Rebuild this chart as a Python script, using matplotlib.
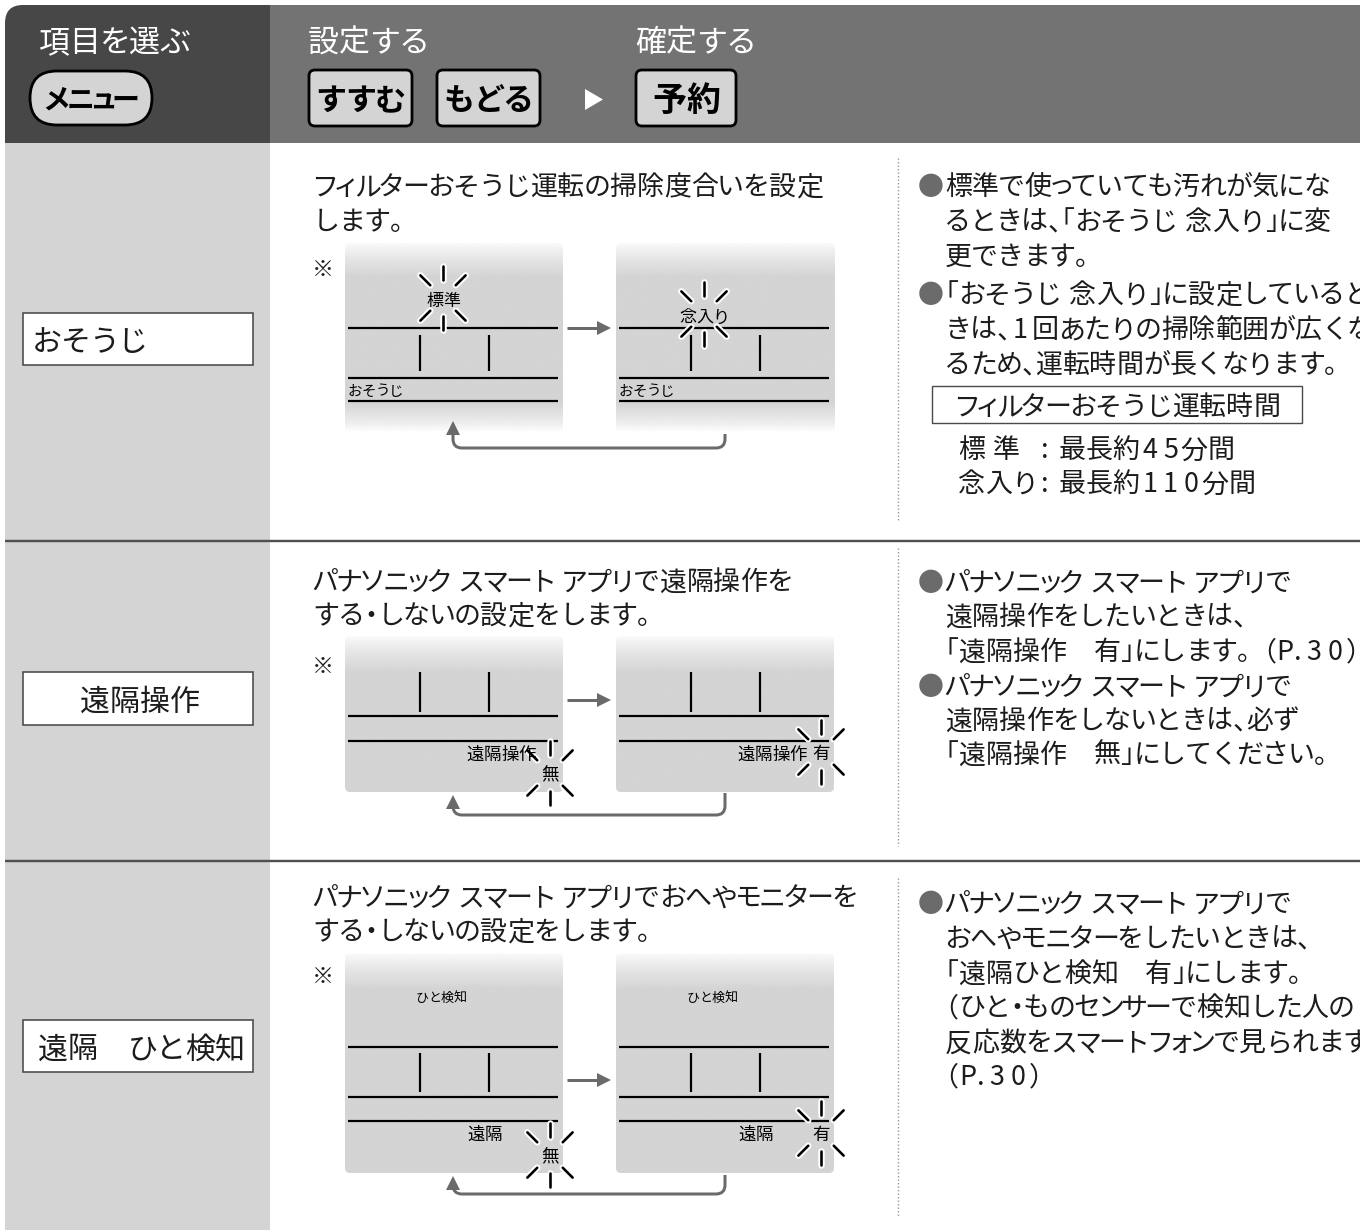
import numpy as np
import matplotlib
matplotlib.use("Agg")
import matplotlib.pyplot as plt
from matplotlib.patches import Rectangle, FancyBboxPatch, Polygon, PathPatch
from matplotlib.path import Path
import matplotlib.patheffects as pe

FAM = ["Noto Sans CJK JP", "DejaVu Sans"]
plt.rcParams["font.family"] = FAM

# ---------------- content ----------------
header_titles = ["項目を選ぶ", "設定する", "確定する"]
menu_button = "メニュー"
set_buttons = ["すすむ", "もどる"]
confirm_button = "予約"
item_names = ["おそうじ", "遠隔操作", "遠隔　ひと検知"]
descriptions = [
    ["フィルターおそうじ運転の掃除度合いを設定", "します。"],
    ["パナソニック スマート アプリで遠隔操作を", "する・しないの設定をします。"],
    ["パナソニック スマート アプリでおへやモニターを", "する・しないの設定をします。"],
]
notes = [
    [("●", "標準で使っていても汚れが気にな"),
     ("", "るときは、「おそうじ 念入り」に変"),
     ("", "更できます。"),
     ("●", "「おそうじ 念入り」に設定していると"),
     ("", "きは、1回あたりの掃除範囲が広くな"),
     ("", "るため、運転時間が長くなります。")],
    [("●", "パナソニック スマート アプリで"),
     ("", "遠隔操作をしたいときは、"),
     ("", "「遠隔操作　有」にします。（P.30）"),
     ("●", "パナソニック スマート アプリで"),
     ("", "遠隔操作をしないときは、必ず"),
     ("", "「遠隔操作　無」にしてください。")],
    [("●", "パナソニック スマート アプリで"),
     ("", "おへやモニターをしたいときは、"),
     ("", "「遠隔ひと検知　有」にします。"),
     ("", "（ひと・ものセンサーで検知した人の"),
     ("", "反応数をスマートフォンで見られます）"),
     ("", "（P.30）")],
]
filter_box_title = "フィルターおそうじ運転時間"
filter_time_labels = ["標 準", "念入り"]
filter_time_values = [":最長約45分間", ":最長約110分間"]
panel_top_labels = [["標準", "念入り"], ["", ""], ["ひと検知", "ひと検知"]]
panel_bottom_labels = [["おそうじ", "おそうじ"], ["遠隔操作", "遠隔操作"], ["遠隔", "遠隔"]]
panel_states = [["", ""], ["無", "有"], ["無", "有"]]
note_mark = "※"

# ---------------- figure ----------------
W, H = 1360, 1230
fig = plt.figure(figsize=(W / 100, H / 100), dpi=100)
ax = fig.add_axes([0, 0, 1, 1])
ax.set_xlim(0, W)
ax.set_ylim(H, 0)
ax.axis("off")

PX = 0.72  # points per pixel at dpi 100
TXT = "#1c1c1c"
GRAY = np.array([212, 212, 212]) / 255.0
ARROW = "#6a6a6a"

SMALL = set("ぁぃぅぇぉっゃゅょゎァィゥェォッャュョヮ")


def char_adv(ch):
    if ch in SMALL:
        return 0.7
    if ch == "ー":
        return 0.9
    o = ord(ch)
    if 0x3040 <= o < 0x30A0:
        return 0.95
    if 0x30A0 <= o < 0x3100:
        return 0.88
    return 1.0


def layout(s, em, dw=0.8):
    """Returns (char, x, ha) items; 'left' items are placed by glyph origin."""
    items = []
    cx = 0.0
    for ch in s:
        if ch == " ":
            cx += 0.3 * em
            continue
        if ch == "　":
            cx += em
            continue
        if ch in "、」）":
            items.append((ch, cx, "left"))
            cx += 0.5 * em
        elif ch == "。":
            items.append((ch, cx, "left"))
            cx += 0.95 * em
        elif ch in "「（":
            items.append((ch, cx - 0.5 * em, "left"))
            cx += 0.5 * em
        elif ch == "・":
            items.append((ch, cx - 0.25 * em, "left"))
            cx += 0.5 * em
        elif ch.isdigit():
            items.append((ch, cx + dw * em / 2, "center"))
            cx += dw * em
        elif ch == ".":
            items.append((ch, cx + 0.17 * em, "center"))
            cx += 0.35 * em
        elif ch == ":":
            items.append((ch, cx + 0.3 * em, "center"))
            cx += 0.8 * em
        elif ch.isascii():
            items.append((ch, cx + 0.33 * em, "center"))
            cx += 0.66 * em
        else:
            a = char_adv(ch)
            items.append((ch, cx - (1 - a) * em / 2, "left"))
            cx += a * em
    return items, cx


def jtext(x, yc, s, em, color=TXT, ha="left", dw=0.8, z=6, weight="normal"):
    items, w = layout(s, em, dw)
    if ha == "center":
        x0 = x - w / 2
    elif ha == "right":
        x0 = x - w
    else:
        x0 = x
    by = yc + 0.38 * em
    for ch, ox, mode in items:
        ax.text(x0 + ox, by, ch, fontsize=em * PX, ha=mode, va="baseline",
                color=color, family=FAM, zorder=z, fontweight=weight)


def hline(x0, x1, y, color="black", lw=2.2, z=4):
    ax.plot([x0, x1], [y, y], color=color, lw=lw * PX, zorder=z, solid_capstyle="butt")


def vline(x, y0, y1, color="black", lw=2.2, z=4, ls="-"):
    ax.plot([x, x], [y0, y1], color=color, lw=lw * PX, zorder=z, ls=ls, solid_capstyle="butt")


def sparkle(cx, cy, r1=18, r2=32):
    for ang in (90, 270, 45, 135, 225, 315):
        a = np.deg2rad(ang)
        xs = [cx + r1 * np.cos(a), cx + r2 * np.cos(a)]
        ys = [cy - r1 * np.sin(a), cy - r2 * np.sin(a)]
        ln, = ax.plot(xs, ys, color="black", lw=2.6 * PX, zorder=7, solid_capstyle="round")
        ln.set_path_effects([pe.Stroke(linewidth=6.5 * PX, foreground="white"), pe.Normal()])


def panel(x0, x1, y0, y1, fade_top=34, fade_bot=0):
    n = 400
    t = np.linspace(y0, y1, n)
    alpha = np.clip((t - y0) / fade_top, 0, 1) ** 0.8
    alpha = 0.08 + 0.92 * alpha
    if fade_bot:
        alpha = alpha * np.clip((y1 - t) / fade_bot, 0, 1) ** 0.8
    arr = np.zeros((n, 1, 4))
    arr[..., 0], arr[..., 1], arr[..., 2] = GRAY
    arr[:, 0, 3] = alpha
    im = ax.imshow(arr, extent=(x0, x1, y1, y0), aspect="auto", interpolation="bilinear", zorder=2)
    clip = FancyBboxPatch((x0, y0), x1 - x0, y1 - y0, boxstyle="round,pad=0,rounding_size=5",
                          transform=ax.transData, fc="none", ec="none")
    ax.add_patch(clip)
    im.set_clip_path(clip)


def right_arrow(x0, x1, y):
    ax.plot([x0, x1 - 12], [y, y], color=ARROW, lw=3 * PX, zorder=3, solid_capstyle="butt")
    ax.add_patch(Polygon([(x1, y), (x1 - 14, y - 7), (x1 - 14, y + 7)], closed=True,
                         fc=ARROW, ec="none", zorder=3))


def return_arrow(xr, xl, ys, yb, ytip, r=9):
    verts = [(xr, ys), (xr, yb - r), (xr, yb), (xr - r, yb), (xl + r, yb), (xl, yb), (xl, yb - r),
             (xl, ytip + 12)]
    codes = [Path.MOVETO, Path.LINETO, Path.CURVE3, Path.CURVE3, Path.LINETO, Path.CURVE3,
             Path.CURVE3, Path.LINETO]
    ax.add_patch(PathPatch(Path(verts, codes), fc="none", ec=ARROW, lw=3 * PX, zorder=3))
    ax.add_patch(Polygon([(xl, ytip), (xl - 7, ytip + 14), (xl + 7, ytip + 14)], closed=True,
                         fc=ARROW, ec="none", zorder=3))


# ---------------- header ----------------
DARK = "#474747"
MID = "#737373"
ax.add_patch(FancyBboxPatch((5, 5), 265, 138, boxstyle="round,pad=0,rounding_size=18",
                            fc=DARK, ec="none", zorder=1))
ax.add_patch(Rectangle((5, 40), 265, 103, fc=DARK, ec="none", zorder=1))
ax.add_patch(Rectangle((60, 5), 210, 138, fc=DARK, ec="none", zorder=1))
ax.add_patch(Rectangle((270, 5), W - 270, 138, fc=MID, ec="none", zorder=1))

for x, s in zip([38, 308, 635], header_titles):
    jtext(x, 40, s, 31, color="white")

BTN = "#d4d4d4"
ax.add_patch(FancyBboxPatch((30, 71), 122, 54, boxstyle="round,pad=0,rounding_size=27",
                            fc=BTN, ec="black", lw=2.8 * PX, zorder=3))
jtext(91, 98, menu_button, 28, color="black", ha="center", weight="bold")

for (bx, s) in zip([309, 437], set_buttons):
    ax.add_patch(FancyBboxPatch((bx, 70), 103, 56, boxstyle="round,pad=0,rounding_size=6",
                                fc=BTN, ec="black", lw=2.8 * PX, zorder=3))
    jtext(bx + 51.5, 98, s, 31, color="black", ha="center", weight="bold")
ax.add_patch(FancyBboxPatch((636, 70), 100, 56, boxstyle="round,pad=0,rounding_size=6",
                            fc=BTN, ec="black", lw=2.8 * PX, zorder=3))
jtext(686, 98, confirm_button, 34, color="black", ha="center", weight="bold")
ax.add_patch(Polygon([(585, 89), (585, 110), (603, 99.5)], closed=True, fc="white", ec="none", zorder=3))

# ---------------- body background ----------------
ax.add_patch(Rectangle((5, 143), 265, H - 143, fc="#d4d4d4", ec="none", zorder=1))
for y in (541, 861):
    hline(5, W, y, color="#505050", lw=2.4, z=3)

dotted = [(158, 522), (548, 846), (878, 1216)]
for (a, b) in dotted:
    vline(898, a, b, color="#9a9a9a", lw=1.4, z=3, ls=(0, (1, 1.5)))

# left item boxes
item_boxes = [(313, 52), (672, 53), (1020, 52)]
for i, ((by, bh), name) in enumerate(zip(item_boxes, item_names)):
    ax.add_patch(Rectangle((23, by), 230, bh, fc="white", ec="#4a4a4a", lw=1.6 * PX, zorder=3))
    yc = by + bh / 2 + 1
    if i == 0:
        jtext(33, yc, name, 30)
    elif i == 1:
        jtext(140, yc, name, 30, ha="center")
    else:
        jtext(38, yc, name, 30)

# middle descriptions
desc_y = [[185, 220], [580, 614], [896, 930]]
star_y = [268, 665, 975]
for lines, ys, sy in zip(descriptions, desc_y, star_y):
    for s, y in zip(lines, ys):
        jtext(313, y, s, 27)
    jtext(323, sy, note_mark, 22, ha="center")

# right notes
note_y = [[185, 220, 255, 293, 328, 363],
          [581, 615, 650, 685, 719, 753],
          [902, 937, 972, 1006, 1041, 1075]]
for rows, ys in zip(notes, note_y):
    for (b, s), y in zip(rows, ys):
        if b:
            jtext(918, y, b, 26, color="#6b6b6b")
        jtext(945, y, s, 27)

ax.add_patch(Rectangle((932, 386), 370, 37, fc="white", ec="#4a4a4a", lw=1.4 * PX, zorder=3))
jtext(955, 405, filter_box_title, 27)
for lab, val, y in zip(filter_time_labels, filter_time_values, [448, 482]):
    jtext(958, y, lab, 27)
    jtext(1037, y, val, 27, dw=0.76)

# ---------------- LCD panels ----------------
OFF = 271
LX0, LX1 = 345, 563
LCD = "black"
# row 1
for k in range(2):
    dx = k * OFF
    panel(LX0 + dx, LX1 + dx + (1 if k else 0), 243, 432, fade_top=34, fade_bot=30)
    hline(348 + dx, 558 + dx, 328)
    hline(348 + dx, 558 + dx, 378)
    hline(348 + dx, 558 + dx, 401)
    vline(420 + dx, 335, 371)
    vline(489 + dx, 335, 371)
    jtext(348 + dx, 390, panel_bottom_labels[0][k], 14.5, color=LCD)
tops = [(443, 300), (704, 316)]
for (cx, cy), s in zip(tops, panel_top_labels[0]):
    sparkle(cx, cy - 2)
    jtext(cx, cy, s, 17, ha="center", z=8, color=LCD)
right_arrow(567, 611, 328)
return_arrow(725, 453, 434, 448, 421)

# row 2
for k in range(2):
    dx = k * OFF
    panel(LX0 + dx, LX1 + dx, 636, 792, fade_top=36)
    hline(348 + dx, 558 + dx, 716)
    hline(348 + dx, 558 + dx, 741)
    vline(420 + dx, 672, 712)
    vline(489 + dx, 672, 712)
    jtext(466 + dx, 753, panel_bottom_labels[1][k], 17.5, z=8, color=LCD)
states2 = [(550, 773), (821, 752)]
for (cx, cy), s in zip(states2, panel_states[1]):
    sparkle(cx, cy)
    jtext(cx, cy, s, 17.5, ha="center", z=8, color=LCD)
right_arrow(567, 611, 700)
return_arrow(725, 453, 793, 815, 795)

# row 3
for k in range(2):
    dx = k * OFF
    panel(LX0 + dx, LX1 + dx, 953, 1173, fade_top=36)
    jtext(416 + dx, 997, panel_top_labels[2][k], 13, color=LCD)
    hline(348 + dx, 558 + dx, 1047)
    hline(348 + dx, 558 + dx, 1097)
    hline(348 + dx, 558 + dx, 1121)
    vline(420 + dx, 1053, 1092)
    vline(489 + dx, 1053, 1092)
    jtext(467 + dx, 1133, panel_bottom_labels[2][k], 17.5, z=8, color=LCD)
states3 = [(550, 1155), (821, 1133)]
for (cx, cy), s in zip(states3, panel_states[2]):
    sparkle(cx, cy)
    jtext(cx, cy, s, 17.5, ha="center", z=8, color=LCD)
right_arrow(567, 611, 1080)
return_arrow(725, 453, 1175, 1194, 1176)

ax.set_xlim(0, W)
ax.set_ylim(H, 0)
fig.savefig("out.png", dpi=100, facecolor="white")
